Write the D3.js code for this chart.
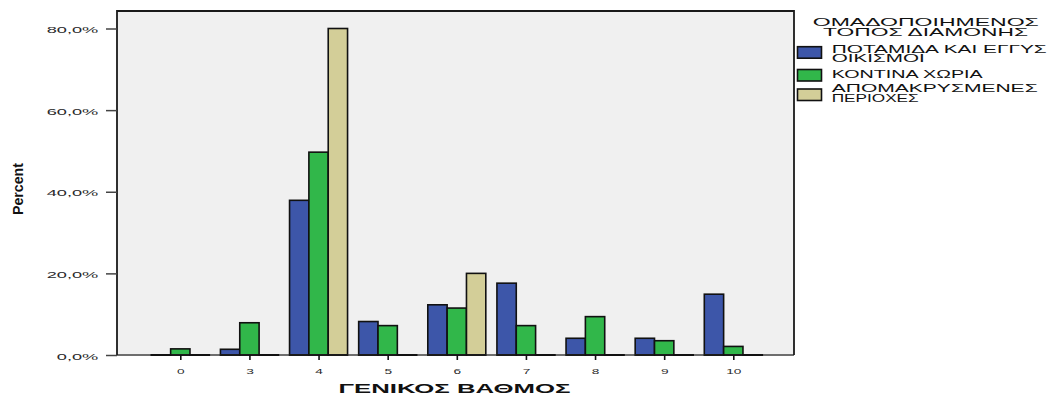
<!DOCTYPE html>
<html><head><meta charset="utf-8">
<script src="https://cdn.jsdelivr.net/npm/d3@7"></script>
<style>body{margin:0;background:#fff}svg{display:block}text{font-family:"Liberation Sans",Arial,sans-serif}</style>
</head><body><svg id="c" width="1050" height="396"></svg>
<script>
const categories = ["0","3","4","5","6","7","8","9","10"];
const seriesNames = ["ΠΟΤΑΜΙΔΑ ΚΑΙ ΕΓΓΥΣ\nΟΙΚΙΣΜΟΙ","ΚΟΝΤΙΝΑ ΧΩΡΙΑ","ΑΠΟΜΑΚΡΥΣΜΕΝΕΣ\nΠΕΡΙΟΧΕΣ"];
const potamida = [0, 1.4, 37.9, 8.2, 12.3, 17.6, 4.1, 4.1, 14.9];
const kontina  = [1.5, 7.9, 49.7, 7.2, 11.5, 7.2, 9.4, 3.5, 2.1];
const apomakr  = [0, 0, 80.0, 0, 20.0, 0, 0, 0, 0];
const yTicks = [0, 20, 40, 60, 80];
const colors = ["#3d56a9", "#31b74a", "#d3ce98"];

const svg = d3.select("#c");
const L = 117, R = 794, T = 11, B = 355;
const x0 = d3.scalePoint().domain(categories).range([180.3, 733.3]);
const x1 = d3.scaleBand().domain([0,1,2]).range([-29, 29]);
const y = d3.scaleLinear().domain([0, 80]).range([B, 28.5]);

function stretch(sel, k) {
  sel.each(function(){ const w = this.getComputedTextLength(); d3.select(this).attr("textLength", w*k).attr("lengthAdjust","spacingAndGlyphs"); });
}

svg.append("rect").attr("x", L).attr("y", T).attr("width", R-L).attr("height", B-T).attr("fill", "#f0f0f0");

const series = [potamida, kontina, apomakr];
const g = svg.append("g");
categories.forEach((c, i) => {
  series.forEach((s, j) => {
    const v = s[i];
    const xs = x0(c) + x1(j);
    if (v > 0) {
      g.append("rect").attr("x", xs).attr("y", y(v)).attr("width", x1.bandwidth()).attr("height", y(0)-y(v))
        .attr("fill", colors[j]).attr("stroke", "#111").attr("stroke-width", 1.6);
    }
  });
});

svg.append("line").attr("x1", L).attr("x2", R).attr("y1", B).attr("y2", B).attr("stroke", "#6e6e6e").attr("stroke-width", 2);
categories.forEach((c, i) => {
  series.forEach((s, j) => {
    const xs = x0(c) + x1(j);
    svg.append("line").attr("x1", xs-0.8).attr("x2", xs + x1.bandwidth()+0.8).attr("y1", B).attr("y2", B)
      .attr("stroke", "#111").attr("stroke-width", s[i] === 0 ? 2 : 1.8);
  });
});

svg.append("path").attr("d", `M${L},${B}V${T}H${R}V${B}`).attr("fill", "none").attr("stroke", "#1a1a1a").attr("stroke-width", 1.8);

const yAxis = svg.append("g").attr("transform", `translate(${L},0)`)
  .call(d3.axisLeft(y).tickValues(yTicks).tickSize(11).tickFormat(d => d3.format(".1f")(d).replace(".", ",") + "%"));
yAxis.select(".domain").remove();
yAxis.selectAll(".tick line").attr("stroke", "#444").attr("stroke-width", 1.5);
yAxis.selectAll(".tick text").attr("x", -18.7).attr("dy", "0.48em").attr("font-size", 8.6).attr("fill", "#2a2a2a")
  .attr("font-family", "Liberation Sans, Arial, sans-serif");
stretch(yAxis.selectAll(".tick text"), 2.12);

const xAxis = svg.append("g").attr("transform", `translate(0,${B})`)
  .call(d3.axisBottom(x0).tickSize(5).tickPadding(9));
xAxis.select(".domain").remove();
xAxis.selectAll(".tick line").attr("stroke", "#111").attr("stroke-width", 1.6);
xAxis.selectAll(".tick text").attr("font-size", 7.6).attr("fill", "#2a2a2a").attr("dy", "0.71em")
  .attr("font-family", "Liberation Sans, Arial, sans-serif");
stretch(xAxis.selectAll(".tick text"), 1.8);

svg.append("text").attr("x", 454.5).attr("y", 393).attr("text-anchor", "middle").attr("font-size", 13).attr("font-weight", "bold")
  .attr("fill", "#111").text("ΓΕΝΙΚΟΣ ΒΑΘΜΟΣ").attr("textLength", 232).attr("lengthAdjust", "spacingAndGlyphs");
svg.append("text").attr("transform", "translate(23,189) rotate(-90)").attr("text-anchor", "middle").attr("font-size", 15.5).attr("font-weight", "bold")
  .attr("fill", "#111").text("Percent").attr("textLength", 52).attr("lengthAdjust", "spacingAndGlyphs");

const leg = svg.append("g");
const titleLines = [["ΟΜΑΔΟΠΟΙΗΜΕΝΟΣ", 925.8, 25.7, 226], ["ΤΟΠΟΣ ΔΙΑΜΟΝΗΣ", 925.5, 35.7, 205]];
titleLines.forEach(t => {
  leg.append("text").attr("x", t[1]).attr("y", t[2]).attr("text-anchor", "middle").attr("font-size", 11.2).attr("fill", "#111")
    .text(t[0]).attr("textLength", t[3]).attr("lengthAdjust", "spacingAndGlyphs");
});
const swY = [46.7, 69.5, 89];
const labelLines = [[["ΠΟΤΑΜΙΔΑ ΚΑΙ ΕΓΓΥΣ", 53.3, 215], ["ΟΙΚΙΣΜΟΙ", 62.3, 93]],
                    [["ΚΟΝΤΙΝΑ ΧΩΡΙΑ", 78.3, 151]],
                    [["ΑΠΟΜΑΚΡΥΣΜΕΝΕΣ", 92.3, 206], ["ΠΕΡΙΟΧΕΣ", 101.7, 87]]];
seriesNames.forEach((name, j) => {
  leg.append("rect").attr("x", 797.5).attr("y", swY[j]).attr("width", 24).attr("height", 11.5)
    .attr("fill", colors[j]).attr("stroke", "#111").attr("stroke-width", 1.6);
  const parts = name.split("\n");
  parts.forEach((p, k) => {
    const ll = labelLines[j][k];
    leg.append("text").attr("x", 831.7).attr("y", ll[1]).attr("font-size", 10.2).attr("fill", "#111")
      .text(p).attr("textLength", ll[2]).attr("lengthAdjust", "spacingAndGlyphs");
  });
});
</script></body></html>
